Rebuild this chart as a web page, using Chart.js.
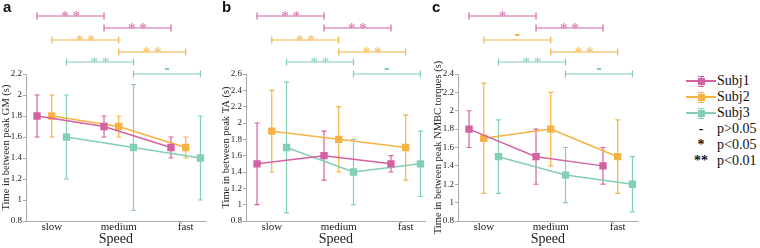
<!DOCTYPE html>
<html>
<head>
<meta charset="utf-8">
<script src="https://cdn.jsdelivr.net/npm/chart.js@4.4.1/dist/chart.umd.min.js"></script>
<style>
    body { margin: 0; width: 760px; height: 248px; background: #fff; position: relative; overflow: hidden; font-family: "Liberation Serif", serif; }
    .panel { position: absolute; top: 0; width: 211px; height: 248px; }
    .letter { position: absolute; top: -2px; font: bold 15px "Liberation Sans", Arial, sans-serif; color: #111; }
    .lrow { position: absolute; left: 686px; width: 74px; height: 16px; }
    .glyph { position: absolute; left: 0; top: 0; width: 30px; height: 16px; }
    .glyph span { position: absolute; }
    .ltext { position: absolute; left: 31px; top: 0; font-size: 14px; line-height: 16px; color: #111; }
    .lsym { position: absolute; left: 0; width: 30px; top: 0; text-align: center; font-size: 14px; line-height: 16px; color: #111; font-weight: bold; }
</style>
</head>
<body>
<canvas id="chart-a" class="panel" style="left:0px"></canvas>
<canvas id="chart-b" class="panel" style="left:220px"></canvas>
<canvas id="chart-c" class="panel" style="left:432px"></canvas>
<div class="letter" style="left:3px">a</div>
<div class="letter" style="left:222px">b</div>
<div class="letter" style="left:432px">c</div>
<div id="legend"></div>

<script>
const speeds = ["slow", "medium", "fast"];
const subjects = ["Subj1", "Subj2", "Subj3"];
const colors = ["#d462a3", "#f6b243", "#82cfb4"];
const sigSymbols = ["-", "*", "**"];
const sigTexts = ["p>0.05", "p<0.05", "p<0.01"];

// panel a - GM, rows = subjects, cols = speeds
const gmMean = [[1.8, 1.7, 1.5], [1.8, 1.7, 1.5], [1.6, 1.5, 1.4]];
const gmLow  = [[1.6, 1.6, 1.4], [1.6, 1.6, 1.4], [1.2, 0.9, 1.0]];
const gmHigh = [[2.0, 1.8, 1.6], [2.0, 1.8, 1.6], [2.0, 2.1, 1.8]];
const gmSig  = [["**", "**"], ["**", "**"], ["**", "-"]];

// panel b - TA
const taMean = [[1.5, 1.6, 1.5], [1.9, 1.8, 1.7], [1.7, 1.4, 1.5]];
const taLow  = [[1.0, 1.3, 1.4], [1.4, 1.4, 1.3], [0.9, 1.0, 1.1]];
const taHigh = [[2.0, 1.9, 1.6], [2.4, 2.2, 2.1], [2.5, 1.8, 1.9]];
const taSig  = [["**", "**"], ["**", "**"], ["**", "-"]];

// panel c - NMBC torques
const nmMean = [[1.8, 1.5, 1.4], [1.7, 1.8, 1.5], [1.5, 1.3, 1.2]];
const nmLow  = [[1.6, 1.2, 1.2], [1.1, 1.4, 1.1], [1.1, 1.0, 0.9]];
const nmHigh = [[2.0, 1.8, 1.6], [2.3, 2.2, 1.9], [1.9, 1.6, 1.5]];
const nmSig  = [["*", "**"], ["-", "**"], ["**", "-"]];

const offsets = [-0.22, 0, 0.22];
const bracketRise = [[58, 46], [34, 22], [12, 0]];
const serif = "'Liberation Serif', 'Times New Roman', serif";

const errorBars = {
    id: "errorBars",
    beforeDatasetsDraw(chart) {
        const { ctx, scales: { x, y } } = chart;
        chart.data.datasets.forEach(ds => {
            ctx.save();
            ctx.strokeStyle = ds.borderColor;
            ctx.lineWidth = 1.2;
            ds.data.forEach((pt, i) => {
                const px = x.getPixelForValue(pt.x);
                const top = y.getPixelForValue(ds.high[i]);
                const bot = y.getPixelForValue(ds.low[i]);
                ctx.beginPath();
                ctx.moveTo(px, top); ctx.lineTo(px, bot);
                ctx.moveTo(px - 2.5, top); ctx.lineTo(px + 2.5, top);
                ctx.moveTo(px - 2.5, bot); ctx.lineTo(px + 2.5, bot);
                ctx.stroke();
            });
            ctx.restore();
        });
    }
};

const sigBrackets = {
    id: "sigBrackets",
    afterDraw(chart) {
        const { ctx, chartArea, scales: { x } } = chart;
        const sig = chart.options.plugins.sigBrackets.labels;
        sig.forEach((pair, s) => {
            pair.forEach((label, k) => {
                const x1 = x.getPixelForValue(k + 1 + offsets[s]);
                const x2 = x.getPixelForValue(k + 2 + offsets[s]);
                const yy = chartArea.top - bracketRise[s][k];
                ctx.save();
                ctx.strokeStyle = colors[s];
                ctx.fillStyle = colors[s];
                ctx.lineWidth = 1.2;
                ctx.beginPath();
                ctx.moveTo(x1, yy); ctx.lineTo(x2, yy);
                ctx.moveTo(x1, yy - 3.5); ctx.lineTo(x1, yy + 3.5);
                ctx.moveTo(x2, yy - 3.5); ctx.lineTo(x2, yy + 3.5);
                ctx.stroke();
                ctx.textAlign = "center";
                if (label === "-") {
                    ctx.font = "bold 14px 'DejaVu Sans'";
                    ctx.fillText("-", (x1 + x2) / 2, yy - 1);
                } else {
                    ctx.font = "15px " + serif;
                    ctx.fillText(label.split("").join(" "), (x1 + x2) / 2, yy + 5);
                }
                ctx.restore();
            });
        });
    }
};

function makePanel(id, mean, low, high, sig, yMax, yTitle) {
    const canvas = document.getElementById(id);
    canvas.width = 211;
    canvas.height = 248;
    new Chart(canvas, {
        type: "line",
        data: {
            datasets: subjects.map((name, s) => ({
                label: name,
                data: mean[s].map((v, i) => ({ x: i + 1 + offsets[s], y: v })),
                low: low[s],
                high: high[s],
                borderColor: colors[s],
                backgroundColor: colors[s],
                borderWidth: 1.5,
                pointStyle: "rect",
                pointRadius: 5.2,
                pointBorderWidth: 0,
                tension: 0
            }))
        },
        options: {
            responsive: false,
            animation: false,
            layout: { padding: { top: 74, right: 4, left: 0, bottom: 0 } },
            plugins: {
                legend: { display: false },
                tooltip: { enabled: false },
                sigBrackets: { labels: sig }
            },
            scales: {
                x: {
                    type: "linear",
                    min: 0.615,
                    max: 3.3,
                    afterBuildTicks: s => { s.ticks = [1, 2, 3].map(v => ({ value: v })); },
                    afterFit: s => { s.height = 27; },
                    ticks: {
                        callback: v => speeds[v - 1],
                        font: { family: serif, size: 11 },
                        color: "#222",
                        padding: 0,
                        maxRotation: 0,
                        autoSkip: false
                    },
                    grid: { display: false, drawTicks: false },
                    border: { color: "#aaa" },
                    title: { display: true, text: "Speed", font: { family: serif, size: 14 }, color: "#222", padding: 0 }
                },
                y: {
                    min: 0.8,
                    max: yMax,
                    afterFit: s => { s.width = 26; },
                    ticks: {
                        stepSize: 0.2,
                        callback: v => String(Number(v.toFixed(1))),
                        font: { family: serif, size: 9 },
                        color: "#222",
                        padding: 1
                    },
                    grid: { drawOnChartArea: false, tickLength: 3, color: "#aaa" },
                    border: { color: "#aaa" },
                    title: { display: true, text: yTitle, font: { family: serif, size: 10.5 }, color: "#222", padding: 0 }
                }
            }
        },
        plugins: [errorBars, sigBrackets]
    });
}

makePanel("chart-a", gmMean, gmLow, gmHigh, gmSig, 2.2, "Time in between peak GM (s)");
makePanel("chart-b", taMean, taLow, taHigh, taSig, 2.6, "Time in between peak TA (s)");
makePanel("chart-c", nmMean, nmLow, nmHigh, nmSig, 2.4, "Time in between peak NMBC torques (s)");

// legend
const legend = document.getElementById("legend");
subjects.forEach((name, s) => {
    const c = colors[s];
    legend.innerHTML += `
        <div class="lrow" style="top:${73 + s * 16}px">
            <div class="glyph">
                <span style="left:0;top:7px;width:30px;height:1.5px;background:${c}"></span>
                <span style="left:14.5px;top:2.5px;width:1px;height:11px;background:${c}"></span>
                <span style="left:12px;top:2.5px;width:6px;height:1px;background:${c}"></span>
                <span style="left:12px;top:12.5px;width:6px;height:1px;background:${c}"></span>
                <span style="left:11.5px;top:4.5px;width:7px;height:7px;background:${c}"></span>
            </div>
            <div class="ltext">${name}</div>
        </div>`;
});
sigSymbols.forEach((sym, k) => {
    legend.innerHTML += `
        <div class="lrow" style="top:${121 + k * 16}px">
            <div class="lsym">${sym}</div>
            <div class="ltext">${sigTexts[k].replace("<", "&lt;").replace(">", "&gt;")}</div>
        </div>`;
});
</script>
</body>
</html>
